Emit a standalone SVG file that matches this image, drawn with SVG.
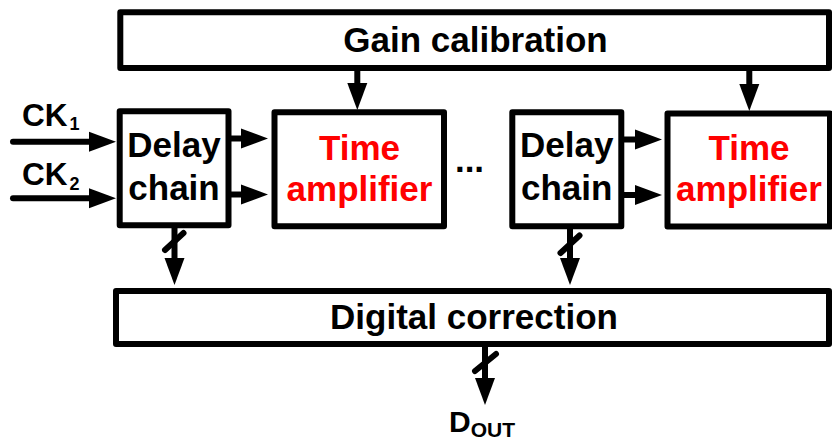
<svg xmlns="http://www.w3.org/2000/svg" width="832" height="440" viewBox="0 0 832 440">
<style>
.box{fill:#fff;stroke:#000;stroke-width:6;stroke-linejoin:round}
.ln{stroke:#000;stroke-width:6;fill:none}
.sl{stroke:#000;stroke-width:6;stroke-linecap:round;fill:none}
.t{font-family:"Liberation Sans",Arial,sans-serif;font-weight:bold;font-size:35px;fill:#000}
.red{fill:#ff0000}
.mid{text-anchor:middle}
</style>
<defs>
<marker id="ah" markerUnits="userSpaceOnUse" markerWidth="30" markerHeight="22" refX="0" refY="10" orient="auto" viewBox="0 0 30 22" overflow="visible">
<path d="M0,0 L27,10 L0,20 z" fill="#000"/>
</marker>
</defs>
<rect width="832" height="440" fill="#fff"/>
<g id="gain">
<rect class="box" x="120.3" y="12.3" width="708.7" height="55.7"/>
<text class="t mid" x="475.5" y="51.5">Gain calibration</text>
</g>
<g id="delay1">
<rect class="box" x="119.7" y="111.3" width="108.8" height="114"/>
<text class="t mid" x="174" y="157">Delay</text>
<text class="t mid" x="174" y="199.5">chain</text>
</g>
<g id="ta1">
<rect class="box" x="274.5" y="112.3" width="169.5" height="114"/>
<text class="t mid red" x="359.5" y="159.5">Time</text>
<text class="t mid red" x="359.5" y="200.5">amplifier</text>
</g>
<g id="dots">
<text class="t mid" x="469.5" y="172">...</text>
</g>
<g id="delay2">
<rect class="box" x="512.3" y="112.3" width="109" height="114"/>
<text class="t mid" x="566.7" y="157">Delay</text>
<text class="t mid" x="566.7" y="199.5">chain</text>
</g>
<g id="ta2">
<rect class="box" x="667.5" y="113.5" width="162.5" height="113"/>
<text class="t mid red" x="749" y="159.5">Time</text>
<text class="t mid red" x="749" y="200.5">amplifier</text>
</g>
<g id="digital">
<rect class="box" x="116" y="291" width="713" height="53"/>
<text class="t mid" x="474" y="328.5">Digital correction</text>
</g>
<g id="labels">
<text class="t" x="22" y="125.7" style="font-size:31.5px">CK<tspan dx="2" dy="4.3" style="font-size:18px">1</tspan></text>
<text class="t" x="22" y="185" style="font-size:31.5px">CK<tspan dx="2" dy="5" style="font-size:18px">2</tspan></text>
<text class="t" x="449" y="431.7" style="font-size:30px">D<tspan dy="5.3" style="font-size:21px">OUT</tspan></text>
</g>
<g id="connectors">
<line class="ln" x1="13" y1="141.7" x2="89" y2="141.7" marker-end="url(#ah)" style="stroke-linecap:round"/>
<line class="ln" x1="13" y1="198.3" x2="89" y2="198.3" marker-end="url(#ah)" style="stroke-linecap:round"/>
<line class="ln" x1="228" y1="138.5" x2="241" y2="138.5" marker-end="url(#ah)"/>
<line class="ln" x1="228" y1="194.5" x2="241" y2="194.5" marker-end="url(#ah)"/>
<line class="ln" x1="621" y1="139.5" x2="635" y2="139.5" marker-end="url(#ah)"/>
<line class="ln" x1="621" y1="195" x2="635" y2="195" marker-end="url(#ah)"/>
<line class="ln" x1="357.3" y1="68" x2="357.3" y2="83" marker-end="url(#ah)"/>
<line class="ln" x1="749.3" y1="68" x2="749.3" y2="84" marker-end="url(#ah)"/>
<line class="ln" x1="174.5" y1="225" x2="174.5" y2="258" marker-end="url(#ah)"/>
<line class="sl" x1="165" y1="250" x2="183.5" y2="233"/>
<line class="ln" x1="570" y1="226" x2="570" y2="258" marker-end="url(#ah)"/>
<line class="sl" x1="560.5" y1="253" x2="579.5" y2="235.5"/>
<line class="ln" x1="485" y1="344" x2="485" y2="378" marker-end="url(#ah)"/>
<line class="sl" x1="475" y1="371" x2="496" y2="354"/>
</g>
</svg>
